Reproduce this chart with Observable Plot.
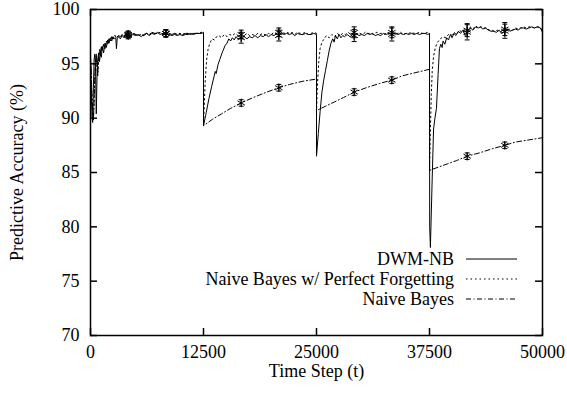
<!DOCTYPE html>
<html><head><meta charset="utf-8">
<script src="https://cdn.jsdelivr.net/npm/d3@7"></script>
<script src="https://cdn.jsdelivr.net/npm/@observablehq/plot@0.6"></script>
<style>
body{margin:0;background:#fff;}
#chart svg{display:block}
#chart svg, #chart svg text{font-family:"Liberation Serif","Times New Roman",serif !important;font-size:18px !important;}
</style></head><body><div id="chart"></div>
<script>
const xTicks = [0, 12500, 25000, 37500, 50000];
const yTicks = [70, 75, 80, 85, 90, 95, 100];
const seriesNames = ["DWM-NB", "Naive Bayes w/ Perfect Forgetting", "Naive Bayes"];
const xLabel = "Time Step (t)";
const yLabel = "Predictive Accuracy (%)";

// DWM-NB (solid)
const dwm = [[0,95.8],[80,93.0],[160,90.2],[240,89.6],[320,92.8],[400,95.4],[480,95.9],[560,94.6],[640,90.4],[720,93.8],[800,95.4],[900,96.0],[1000,95.2],[1100,96.2],[1200,95.6],[1300,96.6],[1450,96.0],[1600,96.9],[1750,96.5],[1900,97.2],[2050,96.9],[2200,97.4],[2350,97.1],[2500,97.5],[2650,97.3],[2800,97.4],[2870,96.4],[2950,97.3],[3100,97.5],[3300,97.3],[3500,97.6],[3700,97.4],[3900,97.7],[4167,97.6],[4400,97.5],[4700,97.7],[5000,97.6],[5300,97.7],[5600,97.5],[5900,97.7],[6200,97.8],[6500,97.6],[6800,97.8],[7100,97.7],[7400,97.9],[7700,97.7],[8000,97.8],[8333,97.8],[8700,97.7],[9000,97.6],[9300,97.7],[9600,97.6],[9900,97.7],[10200,97.6],[10500,97.7],[10800,97.7],[11100,97.8],[11400,97.7],[11700,97.8],[12000,97.8],[12300,97.8],[12500,97.9],
[12500,89.3],[12800,90.5],[13100,91.8],[13400,92.9],[13600,93.6],[13800,94.3],[13900,94.1],[14100,94.9],[14300,95.4],[14600,96.1],[14900,96.7],[15100,96.9],[15300,97.3],[15500,97.1],[15700,97.4],[15900,97.2],[16100,97.5],[16300,97.3],[16667,97.4],[17000,97.5],[17300,97.3],[17600,97.5],[17900,97.4],[18200,97.6],[18500,97.4],[18800,97.6],[19100,97.5],[19400,97.7],[19700,97.5],[20000,97.7],[20300,97.6],[20600,97.8],[20833,97.6],[21100,97.9],[21400,97.7],[21700,97.8],[22000,97.7],[22300,97.8],[22600,97.6],[22900,97.8],[23200,97.7],[23500,97.7],[23800,97.8],[24100,97.7],[24400,97.7],[24700,97.8],[25000,97.7],
[25000,86.5],[25200,88.6],[25400,90.6],[25600,92.4],[25800,93.5],[26000,94.4],[26200,95.3],[26400,96.2],[26600,96.9],[26800,97.3],[26950,97.0],[27100,97.6],[27300,97.3],[27500,97.7],[27700,97.4],[27900,97.6],[28100,97.5],[28400,97.7],[28700,97.5],[29000,97.7],[29167,97.6],[29400,97.8],[29700,97.6],[30000,97.7],[30300,97.6],[30600,97.8],[30900,97.7],[31200,97.8],[31500,97.6],[31800,97.7],[32100,97.6],[32400,97.8],[32700,97.7],[33000,97.8],[33333,97.7],[33700,97.8],[34000,97.7],[34300,97.8],[34600,97.7],[34900,97.8],[35200,97.7],[35500,97.8],[35800,97.7],[36100,97.8],[36400,97.7],[36700,97.8],[37000,97.8],[37300,97.7],[37500,97.8],
[37520,80.0],[37600,78.1],[37800,84.5],[37950,89.0],[38100,90.0],[38270,90.9],[38450,94.0],[38600,96.4],[38750,96.8],[38900,96.5],[39000,97.1],[39200,96.8],[39400,97.4],[39600,97.2],[39820,97.7],[40000,97.4],[40200,97.8],[40400,97.6],[40700,98.0],[40930,97.8],[41200,98.1],[41450,97.6],[41667,97.9],[41900,98.2],[42030,98.3],[42300,98.1],[42600,98.4],[42900,98.3],[43140,98.4],[43400,98.2],[43700,98.3],[44000,98.1],[44300,98.0],[44580,98.0],[44900,97.9],[45200,98.1],[45500,97.8],[45833,98.0],[46130,98.2],[46400,98.0],[46700,98.1],[47000,98.2],[47300,98.1],[47600,98.3],[47900,98.3],[48200,98.2],[48500,98.3],[48800,98.4],[49100,98.3],[49400,98.4],[49780,98.3],[50000,97.9]];

// Naive Bayes and Perfect Forgetting are identical before the first drift
const single1 = [[0,95.5],[80,94.2],[160,92.0],[240,90.6],[320,89.8],[400,91.5],[480,94.0],[560,95.2],[640,95.9],[720,94.8],[800,93.9],[900,95.6],[1000,96.3],[1100,95.7],[1200,96.6],[1300,96.2],[1450,96.8],[1600,96.4],[1750,97.1],[1900,96.8],[2050,97.3],[2200,97.1],[2350,97.5],[2500,97.3],[2700,97.6],[2900,97.4],[3100,97.6],[3300,97.5],[3500,97.7],[3700,97.5],[3900,97.8],[4167,97.7],[4400,97.6],[4700,97.8],[5000,97.7],[5300,97.6],[5600,97.7],[5900,97.6],[6200,97.8],[6500,97.7],[6800,97.9],[7100,97.8],[7400,97.8],[7700,97.9],[8000,97.7],[8333,97.8],[8700,97.8],[9000,97.7],[9300,97.8],[9600,97.7],[9900,97.8],[10200,97.7],[10500,97.8],[10800,97.8],[11100,97.7],[11400,97.8],[11700,97.8],[12000,97.8],[12300,97.9],[12500,97.8]];

// Perfect Forgetting after the first drift (dotted)
const pfRest = [[12500,89.3],[12600,91.5],[12700,93.6],[12850,95.4],[13000,96.3],[13200,96.9],[13450,97.3],[13700,97.2],[13950,97.5],[14200,97.6],[14500,97.4],[14800,97.7],[15100,97.5],[15400,97.7],[15700,97.6],[16000,97.8],[16300,97.6],[16667,97.7],[17000,97.6],[17300,97.8],[17600,97.6],[17900,97.7],[18200,97.6],[18500,97.8],[18800,97.7],[19100,97.8],[19400,97.6],[19700,97.8],[20000,97.7],[20300,97.9],[20600,97.8],[20833,97.9],[21100,98.0],[21400,97.8],[21700,97.9],[22000,97.8],[22300,97.9],[22600,97.7],[22900,97.9],[23200,97.8],[23500,97.8],[23800,97.9],[24100,97.7],[24400,97.8],[24700,97.9],[25000,97.8],
[25000,90.5],[25100,93.0],[25250,95.2],[25400,96.4],[25600,97.0],[25850,97.3],[26100,97.6],[26400,97.4],[26700,97.7],[27000,97.5],[27300,97.8],[27600,97.6],[27900,97.8],[28200,97.7],[28500,97.9],[28800,97.7],[29167,97.9],[29500,97.7],[29800,97.8],[30100,97.7],[30400,97.9],[30700,97.8],[31000,97.8],[31300,97.7],[31600,97.9],[31900,97.8],[32200,97.8],[32500,97.7],[32800,97.9],[33100,97.8],[33333,97.9],[33700,97.8],[34000,97.8],[34300,97.9],[34600,97.7],[34900,97.8],[35200,97.8],[35500,97.9],[35800,97.8],[36100,97.8],[36400,97.9],[36700,97.8],[37000,97.8],[37300,97.9],[37500,97.8],
[37500,85.2],[37600,89.0],[37700,92.2],[37800,94.3],[37950,95.7],[38150,96.5],[38400,97.0],[38700,97.3],[39000,97.5],[39300,97.4],[39600,97.7],[39900,97.6],[40200,97.9],[40500,97.7],[40800,98.1],[41100,97.9],[41400,98.2],[41667,98.1],[42000,98.4],[42300,98.2],[42600,98.5],[42900,98.3],[43200,98.4],[43500,98.3],[43800,98.3],[44100,98.1],[44400,98.1],[44700,98.0],[45000,98.1],[45300,97.9],[45600,98.1],[45833,98.2],[46100,98.1],[46400,98.2],[46700,98.1],[47000,98.3],[47300,98.2],[47600,98.3],[47900,98.4],[48200,98.3],[48500,98.4],[48800,98.4],[49100,98.3],[49400,98.4],[49700,98.4],[50000,98.0]];

// Naive Bayes after the first drift (dash-dot)
const nbRest = [[12500,89.3],[13500,89.9],[14500,90.4],[15500,90.9],[16667,91.4],[18000,91.9],[19500,92.4],[20833,92.8],[22000,93.1],[23500,93.4],[25000,93.6],
[25000,90.7],[26000,91.1],[27000,91.5],[28000,91.9],[29167,92.4],[30500,92.8],[32000,93.2],[33333,93.5],[34500,93.9],[36000,94.2],[37500,94.5],
[37500,85.2],[38500,85.5],[39500,85.8],[40500,86.1],[41667,86.5],[43000,86.8],[44500,87.2],[45833,87.5],[47000,87.8],[48500,88.0],[50000,88.2]];

// Marker positions with error bars
const markT  = [4167, 8333, 16667, 20833, 29167, 33333, 41667, 45833];
const dwmMark = [97.6, 97.8, 97.4, 97.6, 97.6, 97.7, 97.9, 98.0];
const dwmErr  = [0.3, 0.35, 0.5, 0.5, 0.55, 0.6, 0.7, 0.65];
const pfMark  = [97.7, 97.8, 97.7, 97.9, 97.9, 97.9, 98.1, 98.2];
const pfErr   = [0.3, 0.3, 0.4, 0.4, 0.5, 0.5, 0.6, 0.6];
const nbMark  = [97.7, 97.8, 91.4, 92.8, 92.4, 93.5, 86.5, 87.5];
const nbErr   = [0.3, 0.3, 0.3, 0.3, 0.3, 0.3, 0.3, 0.3];

const pf = single1.concat(pfRest);
const nb = single1.concat(nbRest);
const marks = [];
markT.forEach((t, i) => {
  marks.push({t, v: dwmMark[i], e: dwmErr[i]});
  marks.push({t, v: pfMark[i], e: pfErr[i]});
  marks.push({t, v: nbMark[i], e: nbErr[i]});
});

const capSymbol = {draw(ctx) { ctx.moveTo(-2.5, 0); ctx.lineTo(2.5, 0); }};
const fmt = d3.format("d");

const chart = Plot.plot({
  width: 567, height: 394,
  marginLeft: 90, marginRight: 25, marginTop: 9, marginBottom: 59,
  style: {fontFamily: "Liberation Serif, serif", fontSize: "18px", color: "black", background: "white", overflow: "visible"},
  x: {domain: [0, 50000]},
  y: {domain: [70, 100]},
  marks: [
    Plot.axisX({ticks: xTicks, tickSize: 0, tickPadding: 10, tickFormat: fmt, label: null}),
    Plot.axisY({ticks: yTicks, tickSize: 0, tickPadding: 11, tickFormat: fmt, label: null}),
    Plot.text([xLabel], {frameAnchor: "bottom", dy: 41, text: d => d}),
    Plot.text([yLabel], {frameAnchor: "left", textAnchor: "middle", rotate: -90, dx: -73, text: d => d}),
    Plot.line(dwm, {x: d => d[0], y: d => d[1], stroke: "black", strokeWidth: 1}),
    Plot.line(pf, {x: d => d[0], y: d => d[1], stroke: "black", strokeWidth: 1, strokeDasharray: "1.5,3"}),
    Plot.line(nb, {x: d => d[0], y: d => d[1], stroke: "black", strokeWidth: 1, strokeDasharray: "5,2.5,1,2.5"}),
    Plot.ruleX(marks, {x: "t", y1: d => d.v - d.e, y2: d => d.v + d.e, stroke: "black", strokeWidth: 1}),
    Plot.dot(marks, {x: "t", y: d => d.v - d.e, symbol: capSymbol, stroke: "black", strokeWidth: 1}),
    Plot.dot(marks, {x: "t", y: d => d.v + d.e, symbol: capSymbol, stroke: "black", strokeWidth: 1}),
    Plot.dot(marks, {x: "t", y: "v", symbol: "asterisk", r: 4, stroke: "black", strokeWidth: 1}),
    Plot.ruleX(xTicks, {x: d => d, insetTop: 319, stroke: "black", strokeWidth: 1.5}),
    Plot.ruleX(xTicks, {x: d => d, insetBottom: 319, stroke: "black", strokeWidth: 1.5}),
    Plot.ruleY(yTicks, {y: d => d, insetRight: 445, stroke: "black", strokeWidth: 1.5}),
    Plot.ruleY(yTicks, {y: d => d, insetLeft: 445, stroke: "black", strokeWidth: 1.5}),
    Plot.frame({stroke: "black", strokeWidth: 1.5})
  ]
});
document.getElementById("chart").appendChild(chart);

// Legend (inside plot, lower right)
const dashes = [null, "1.5,3", "5,2.5,1,2.5"];
const svg = d3.select(chart);
const lg = svg.append("g");
seriesNames.forEach((name, i) => {
  const y = 259 + i * 20;
  lg.append("text").attr("x", 454).attr("y", y).attr("dy", "0.35em")
    .attr("text-anchor", "end").attr("fill", "black").text(name);
  const ln = lg.append("line").attr("x1", 466).attr("x2", 517).attr("y1", y).attr("y2", y)
    .attr("stroke", "black").attr("stroke-width", 1);
  if (dashes[i]) ln.attr("stroke-dasharray", dashes[i]);
});
</script>
</body></html>
